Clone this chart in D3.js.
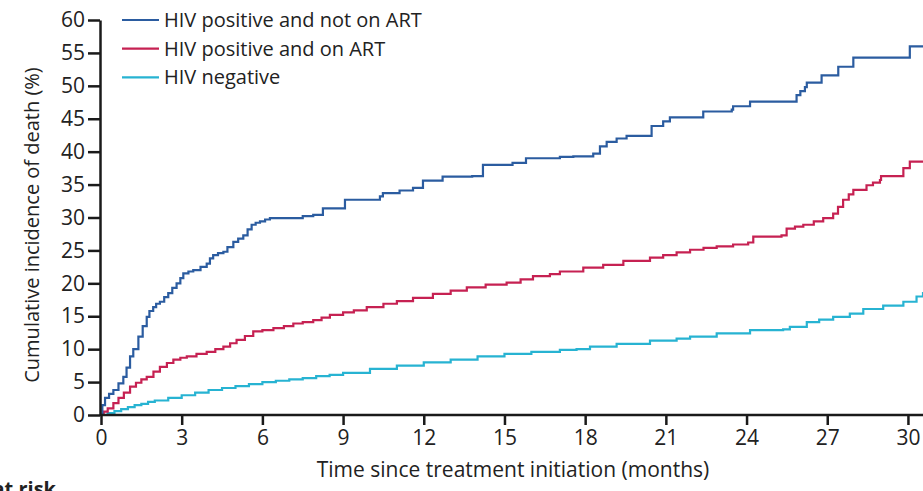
<!DOCTYPE html>
<html lang="en">
  <head>
    <title>Cumulative incidence of death</title>
    <script src="https://d3js.org/d3.v7.min.js"></script>
    <style>
      body { margin: 0; background: #fff; }
      text { font-family: "Open Sans", sans-serif; fill: #222; }
    </style>
  </head>
  <body>
  <script>
  const width = 923;
  const height = 491;

  // series labels + colours
  const seriesNames = ["HIV positive and not on ART", "HIV positive and on ART", "HIV negative"];
  const seriesColors = ["#2b5ca0", "#c62152", "#27b3d2"];

  // months / cumulative incidence (%)
  const notOnArtTime = [0, 0.05, 0.15, 0.3, 0.46, 0.65, 0.83, 0.95, 1.08, 1.2, 1.39, 1.55, 1.7, 1.8, 1.94, 2.05, 2.19, 2.35, 2.5, 2.65, 2.81, 2.95, 3.06, 3.25, 3.43, 3.7, 3.93, 4.05, 4.17, 4.35, 4.55, 4.7, 4.92, 5.1, 5.29, 5.45, 5.6, 5.75, 5.91, 6.1, 6.28, 7.5, 7.89, 8.25, 9.07, 10.37, 10.48, 11.1, 11.6, 11.97, 12.7, 13.8, 14.2, 15.3, 15.8, 17.06, 17.56, 18.3, 18.55, 18.8, 19.17, 19.54, 20.47, 20.9, 21.15, 22.39, 23.45, 23.5, 24.13, 25.86, 26.0, 26.17, 26.24, 26.79, 27.41, 27.97, 30.07, 30.56];
  const notOnArtValue = [0, 1.5, 2.6, 3.2, 3.8, 4.8, 5.8, 7.2, 8.9, 10.0, 11.9, 13.5, 14.9, 15.8, 16.4, 16.9, 17.2, 17.9, 18.5, 19.3, 20.0, 20.8, 21.5, 21.8, 22.0, 22.5, 23.0, 23.8, 24.3, 24.6, 24.8, 25.5, 26.3, 26.8, 27.3, 28.2, 28.9, 29.2, 29.4, 29.7, 29.9, 30.2, 30.4, 31.4, 32.7, 33.2, 33.7, 34.1, 34.5, 35.6, 36.2, 36.3, 38.0, 38.3, 39.0, 39.2, 39.3, 39.7, 40.8, 41.5, 42.0, 42.4, 43.9, 44.6, 45.2, 46.1, 46.4, 46.9, 47.6, 48.6, 49.2, 49.8, 50.5, 51.6, 52.9, 54.3, 56.0, 56.0];

  const onArtTime = [0, 0.1, 0.25, 0.46, 0.65, 0.85, 1.08, 1.3, 1.5, 1.7, 1.95, 2.19, 2.45, 2.69, 2.95, 3.19, 3.55, 3.93, 4.25, 4.55, 4.8, 5.04, 5.35, 5.66, 6.0, 6.41, 6.8, 7.15, 7.5, 7.89, 8.2, 8.51, 9.0, 9.4, 9.88, 10.5, 11.0, 11.6, 12.34, 13.0, 13.6, 14.3, 15.08, 15.6, 16.06, 16.69, 17.06, 17.93, 18.67, 19.42, 20.41, 20.9, 21.4, 21.9, 22.4, 22.89, 23.5, 24.06, 24.25, 25.3, 25.49, 25.8, 26.11, 26.5, 26.85, 27.22, 27.4, 27.59, 27.8, 27.97, 28.46, 28.7, 28.96, 29.0, 29.83, 30.07, 30.56];
  const onArtValue = [0, 0.5, 1.0, 1.8, 2.6, 3.4, 4.3, 4.9, 5.4, 5.8, 6.6, 7.3, 7.9, 8.4, 8.7, 8.9, 9.3, 9.6, 10.0, 10.4, 10.9, 11.4, 12.0, 12.7, 12.9, 13.2, 13.5, 13.9, 14.1, 14.4, 14.8, 15.2, 15.6, 15.9, 16.4, 16.9, 17.3, 17.8, 18.4, 18.9, 19.4, 19.8, 20.1, 20.6, 21.1, 21.4, 21.8, 22.4, 22.8, 23.4, 23.9, 24.3, 24.7, 25.1, 25.4, 25.6, 25.9, 26.2, 27.1, 27.3, 28.3, 28.6, 28.9, 29.4, 29.9, 30.6, 31.6, 32.7, 33.5, 34.2, 34.9, 35.3, 35.7, 36.3, 37.5, 38.5, 38.5];

  const negativeTime = [0, 0.25, 0.5, 0.75, 1.0, 1.25, 1.5, 1.75, 2.0, 2.5, 3.0, 3.5, 4.0, 4.5, 5.0, 5.5, 6.0, 6.5, 7.0, 7.5, 8.0, 8.5, 9.0, 10.0, 11.0, 12.0, 13.0, 14.0, 15.0, 16.0, 17.06, 17.68, 18.18, 19.17, 20.41, 21.4, 21.9, 22.89, 24.13, 25.36, 25.61, 26.24, 26.7, 27.22, 27.84, 28.34, 29.08, 29.83, 30.32, 30.56];
  const negativeValue = [0, 0.3, 0.6, 0.9, 1.2, 1.5, 1.7, 2.0, 2.2, 2.6, 3.0, 3.4, 3.8, 4.1, 4.4, 4.7, 5.0, 5.2, 5.4, 5.6, 5.9, 6.1, 6.4, 7.0, 7.5, 8.0, 8.4, 8.9, 9.3, 9.6, 9.9, 10.0, 10.4, 10.8, 11.3, 11.6, 11.9, 12.4, 12.9, 13.0, 13.4, 14.1, 14.5, 14.9, 15.4, 16.1, 16.6, 17.2, 18.0, 18.7];

  const xTicks = [0, 3, 6, 9, 12, 15, 18, 21, 24, 27, 30];
  const yTicks = [0, 5, 10, 15, 20, 25, 30, 35, 40, 45, 50, 55, 60];

  const svg = d3.select(document.body).append('svg').attr('width', width).attr('height', height);

  const x = d3.scaleLinear().domain([0, 30.56]).range([101, 923]);
  const y = d3.scaleLinear().domain([0, 60]).range([415, 20]);

  const series = [
    d3.zip(notOnArtTime, notOnArtValue),
    d3.zip(onArtTime, onArtValue),
    d3.zip(negativeTime, negativeValue)
  ];

  const line = d3.line()
    .x(function(d) { return x(d[0]); })
    .y(function(d) { return y(d[1]); })
    .curve(d3.curveStepAfter);

  // draw lowest series first so blue sits on top
  [2, 1, 0].forEach(function(i) {
    svg.append('path')
      .attr('d', line(series[i]))
      .attr('fill', 'none')
      .attr('stroke', seriesColors[i])
      .attr('stroke-width', 2.2);
  });

  // axes
  const xAxis = svg.append('g')
    .attr('transform', 'translate(0,415)')
    .call(d3.axisBottom(x).tickValues(xTicks).tickSize(10).tickPadding(5).tickSizeOuter(0));
  const yAxis = svg.append('g')
    .attr('transform', 'translate(100,0)')
    .call(d3.axisLeft(y).tickValues(yTicks).tickSize(12).tickPadding(3).tickSizeOuter(0));

  [xAxis, yAxis].forEach(function(g) {
    g.select('.domain').attr('stroke', '#1a1a1a').attr('stroke-width', 2.5);
    g.selectAll('.tick line').attr('stroke', '#1a1a1a').attr('stroke-width', 2.5);
    g.selectAll('.tick text').attr('font-size', 21).attr('font-family', null).style('fill', '#222');
  });
  xAxis.select('.domain').attr('d', 'M100,0H923');

  svg.append('text')
    .attr('x', 513).attr('y', 477)
    .attr('text-anchor', 'middle')
    .attr('font-size', 21)
    .text('Time since treatment initiation (months)');

  svg.append('text')
    .attr('transform', 'translate(39,225) rotate(-90)')
    .attr('text-anchor', 'middle')
    .attr('font-size', 20)
    .text('Cumulative incidence of death (%)');

  // row header of the risk table below, mostly cut off by the frame
  svg.append('text')
    .attr('x', 56).attr('y', 496)
    .attr('text-anchor', 'end')
    .attr('font-size', 20)
    .attr('font-weight', 'bold')
    .text('Number at risk');

  // legend
  const legend = svg.append('g').selectAll('g').data(seriesNames).enter()
    .append('g')
    .attr('transform', function(d, i) { return 'translate(122,' + (20 + i * 28.7) + ')'; });
  legend.append('line')
    .attr('x1', 0).attr('x2', 37)
    .attr('stroke', function(d, i) { return seriesColors[i]; })
    .attr('stroke-width', 2.2);
  legend.append('text')
    .attr('x', 42).attr('y', 7)
    .attr('font-size', 20)
    .text(function(d) { return d; });
</script>
  </body>
</html>
